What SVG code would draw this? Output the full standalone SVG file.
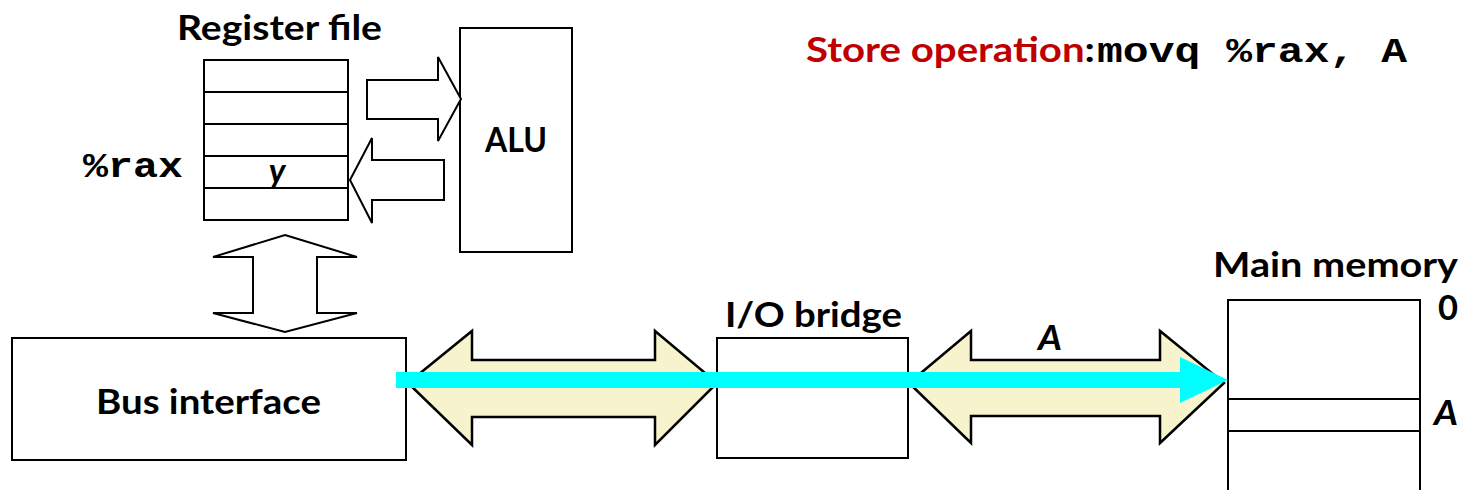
<svg xmlns="http://www.w3.org/2000/svg" width="1462" height="490" viewBox="0 0 1462 490">
<style>
.box{fill:#fff;stroke:#000;stroke-width:2}
.arr{fill:#fff;stroke:#000;stroke-width:2;stroke-linejoin:miter}
.bus{fill:#f6f3cd;stroke:#000;stroke-width:2.5;stroke-linejoin:miter}
.lbl{font-family:Lato,"Liberation Sans",sans-serif;font-weight:bold;font-size:34px;fill:#000}
.mono{font-family:"Liberation Mono","Courier New",monospace;font-weight:bold;font-size:35px;fill:#000}
.ital{font-family:Lato,"Liberation Sans",sans-serif;font-weight:bold;font-style:italic;font-size:34px;fill:#000}
</style>
<rect width="1462" height="490" fill="#fff"/>
<g id="title">
<text x="806" y="62" class="lbl" textLength="289" lengthAdjust="spacingAndGlyphs"><tspan fill="#c00000">Store operation</tspan>:</text>
<text x="1097" y="62" class="mono" textLength="310" lengthAdjust="spacingAndGlyphs">movq %rax, A</text>
</g>
<g id="register-file">
<text x="177" y="40" class="lbl" textLength="205" lengthAdjust="spacingAndGlyphs">Register file</text>
<rect x="204" y="60" width="144" height="160" class="box"/>
<line x1="204" y1="92" x2="348" y2="92" stroke="#000" stroke-width="2"/>
<line x1="204" y1="124" x2="348" y2="124" stroke="#000" stroke-width="2"/>
<line x1="204" y1="156" x2="348" y2="156" stroke="#000" stroke-width="2"/>
<line x1="204" y1="188" x2="348" y2="188" stroke="#000" stroke-width="2"/>
<text x="83" y="177" class="mono" textLength="100" lengthAdjust="spacingAndGlyphs">%rax</text>
<text x="277" y="183" class="ital" text-anchor="middle">y</text>
</g>
<g id="alu">
<rect x="460" y="28" width="112" height="224" class="box"/>
<text x="485" y="152" class="lbl" textLength="62" lengthAdjust="spacingAndGlyphs">ALU</text>
</g>
<g id="bus-interface">
<rect x="12" y="338" width="394" height="122" class="box"/>
<text x="96" y="414" class="lbl" textLength="225" lengthAdjust="spacingAndGlyphs">Bus interface</text>
</g>
<g id="io-bridge">
<rect x="717" y="338" width="191" height="120" class="box"/>
<text x="725" y="327" class="lbl" textLength="177" lengthAdjust="spacingAndGlyphs">I/O bridge</text>
</g>
<g id="main-memory">
<text x="1213" y="277" class="lbl" textLength="245" lengthAdjust="spacingAndGlyphs">Main memory</text>
<rect x="1228" y="300" width="192" height="200" class="box"/>
<rect x="1228" y="399" width="192" height="32" class="box"/>
<text x="1438" y="320" class="lbl" textLength="20" lengthAdjust="spacingAndGlyphs">0</text>
<text x="1434" y="425" class="ital" textLength="24" lengthAdjust="spacingAndGlyphs">A</text>
</g>
<g id="connectors">
<polygon class="arr" points="367,80 438,80 438,57 461,99 438,141 438,119 367,119"/>
<polygon class="arr" points="444,160 372,160 372,138 350,180 372,223 372,200 444,200"/>
<polygon class="arr" points="285,235 357,257 317,257 317,313 357,313 285,332 213,313 253,313 253,257 213,257"/>
<polygon class="bus" points="408,383 472,331 472,360 655,360 655,331 717,383 655,445 655,417 472,417 472,445"/>
<polygon class="bus" points="909,383 971,331 971,360 1160,360 1160,331 1224,383 1160,443 1160,416 971,416 971,443"/>
<text x="1038" y="350" class="ital" textLength="24" lengthAdjust="spacingAndGlyphs">A</text>
<g id="data-flow" fill="#00ffff">
<rect x="396" y="372" width="786" height="16"/>
<polygon points="1180,357 1228,380 1180,403"/>
</g>
</g>
</svg>
